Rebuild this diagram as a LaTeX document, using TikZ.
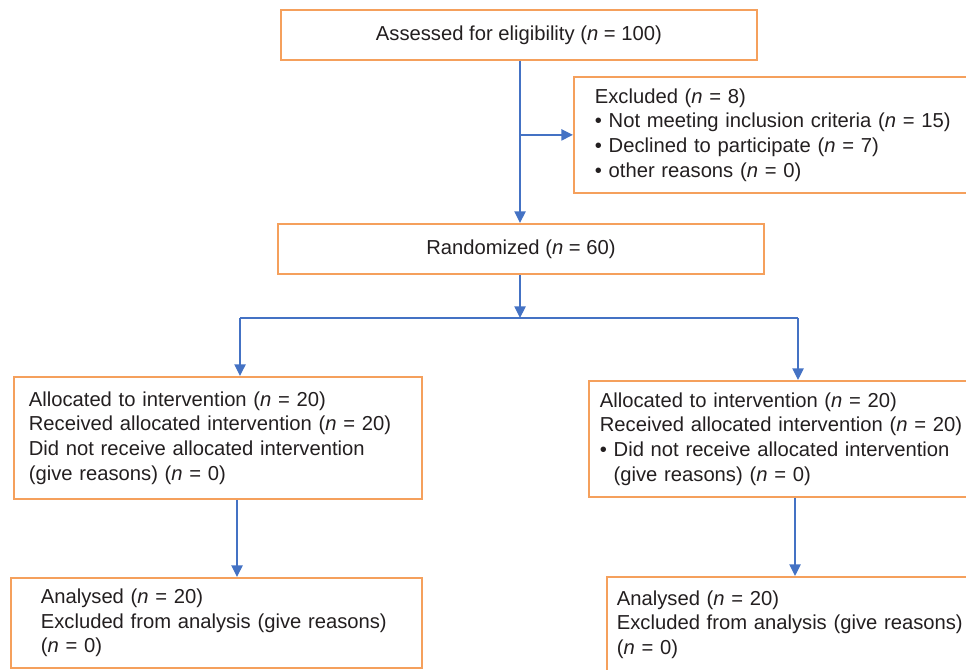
\documentclass[tikz,border=0pt]{standalone}
\usepackage{fontspec}
\setmainfont{Liberation Sans}
\usetikzlibrary{arrows.meta}
\definecolor{boxorange}{RGB}{245,160,92}
\definecolor{linkblue}{RGB}{68,114,196}
\definecolor{txtgray}{RGB}{35,31,32}
\newcommand{\oneline}[1]{\mbox{#1}}
\begin{document}
\begin{tikzpicture}[x=0.02cm,y=-0.02cm,
  box/.style={draw=boxorange, line width=1pt, fill=white, rectangle, anchor=north west,
    font=\fontsize{11.5}{14}\selectfont, text=txtgray, inner ysep=0pt},
  lbox/.style={box, align=left},
  arr/.style={draw=linkblue, line width=0.75pt, -{Triangle[length=6.6pt,width=6.4pt]}},
  lnk/.style={draw=linkblue, line width=0.75pt}]
\useasboundingbox (0,0) rectangle (966,669);
\clip (0,0) rectangle (966,669);

\node[box, minimum width=476*0.02cm, minimum height=50*0.02cm, inner xsep=0pt] (top) at (280,9)
  {Assessed for eligibility (\textit{n} = 100)};
\node[lbox, minimum width=407*0.02cm, minimum height=116*0.02cm, inner xsep=21*0.02cm,
  text width=365*0.02cm] (excl) at (573,76)
  {\oneline{Excluded (\textit{n} = 8)}\\
   \oneline{• Not meeting inclusion criteria (\textit{n} = 15)}\\
   \oneline{• Declined to participate (\textit{n} = 7)}\\
   \oneline{• other reasons (\textit{n} = 0)}};
\node[box, minimum width=486*0.02cm, minimum height=50*0.02cm, inner xsep=0pt] (rand) at (277,223)
  {Randomized (\textit{n} = 60)};
\node[lbox, minimum width=408*0.02cm, minimum height=122*0.02cm, inner xsep=15*0.02cm,
  text width=378*0.02cm] (allocL) at (13,376)
  {\oneline{Allocated to intervention (\textit{n} = 20)}\\
   \oneline{Received allocated intervention (\textit{n} = 20)}\\
   \oneline{Did not receive allocated intervention}\\
   \oneline{(give reasons) (\textit{n} = 0)}};
\node[lbox, minimum width=392*0.02cm, minimum height=116*0.02cm, inner xsep=11*0.02cm,
  text width=370*0.02cm] (allocR) at (588,380)
  {\oneline{Allocated to intervention (\textit{n} = 20)}\\
   \oneline{Received allocated intervention (\textit{n} = 20)}\\
   \oneline{• Did not receive allocated intervention}\\
   \oneline{\phantom{•\ }(give reasons) (\textit{n} = 0)}};
\node[lbox, minimum width=411*0.02cm, minimum height=90*0.02cm, inner xsep=30*0.02cm,
  text width=351*0.02cm] (analL) at (10,577)
  {\oneline{Analysed (\textit{n} = 20)}\\
   \oneline{Excluded from analysis (give reasons)}\\
   \oneline{(\textit{n} = 0)}};
\node[lbox, minimum width=374*0.02cm, minimum height=95*0.02cm, inner xsep=10*0.02cm,
  text width=354*0.02cm] (analR) at (606,576)
  {\oneline{Analysed (\textit{n} = 20)}\\
   \oneline{Excluded from analysis (give reasons)}\\
   \oneline{(\textit{n} = 0)}};

\coordinate (vx) at (520,0);
\coordinate (split) at (520,318);
\coordinate (sl) at (240,318);
\coordinate (sr) at (798,318);
\coordinate (cl) at (237,0);
\coordinate (cr) at (795,0);

\draw[arr] (vx |- top.south) -- (vx |- rand.north);
\draw[arr] (vx |- excl.west) -- (excl.west);
\draw[arr] (vx |- rand.south) -- (split);
\draw[lnk] (sl) -- (sr);
\draw[arr] (sl) -- (sl |- allocL.north);
\draw[arr] (sr) -- (sr |- allocR.north);
\draw[arr] (cl |- allocL.south) -- (cl |- analL.north);
\draw[arr] (cr |- allocR.south) -- (cr |- analR.north);
\end{tikzpicture}
\end{document}
